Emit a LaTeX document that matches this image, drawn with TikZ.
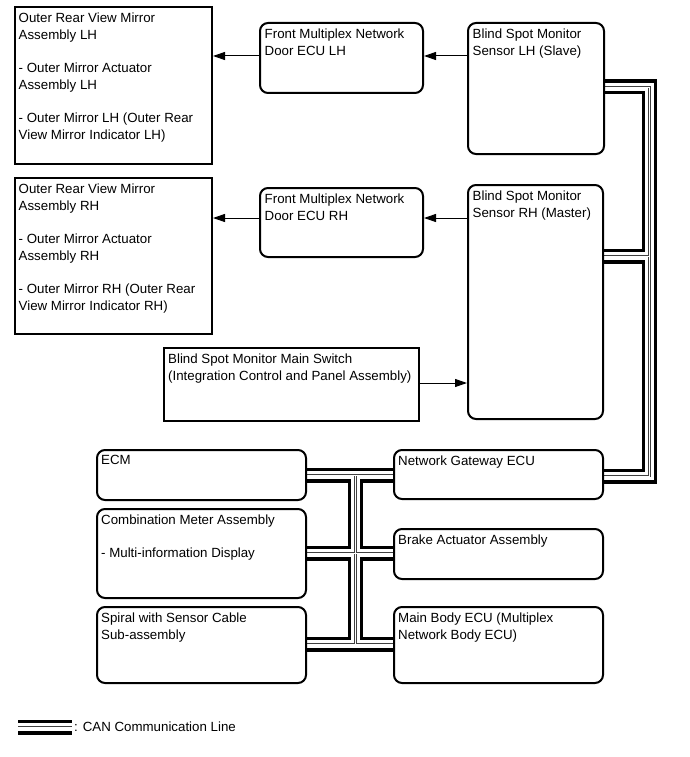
\documentclass[tikz,border=0pt]{standalone}
\usepackage{fontspec}
\setmainfont{Liberation Sans}
\usetikzlibrary{arrows.meta}
\pgfdeclarelayer{bg}
\pgfsetlayers{bg,main}
\begin{document}
\begin{tikzpicture}[x=1pt,y=-1pt,
  sbox/.style={draw, line width=2pt, fill=white, inner sep=0pt, anchor=north west},
  rbox/.style={sbox, rounded corners=8pt},
  txt/.style={anchor=north west, inner sep=0pt, align=left, font=\fontsize{13.3}{16.7}\selectfont},
  arr/.style={line width=1pt, -{Triangle[length=12pt,width=8pt]}}]
\useasboundingbox (0,0) rectangle (689,757);

% boxes
\node[sbox, minimum width=197, minimum height=157] (mlh) at (14,6) {};
\node[txt] (mlht) at ([shift={(4.5,6.5)}]mlh.north west) {Outer Rear View Mirror\\Assembly LH\\[16.7pt]- Outer Mirror Actuator\\Assembly LH\\[16.7pt]- Outer Mirror LH (Outer Rear\\View Mirror Indicator LH)};

\node[rbox, minimum width=163, minimum height=70] (dlh) at (259,22) {};
\node[txt] (dlht) at ([shift={(5.5,6.5)}]dlh.north west) {Front Multiplex Network\\Door ECU LH};

\node[rbox, minimum width=136, minimum height=131] (slh) at (467,22) {};
\node[txt] (slht) at ([shift={(5.5,6.5)}]slh.north west) {Blind Spot Monitor\\Sensor LH (Slave)};

\node[sbox, minimum width=197, minimum height=156] (mrh) at (14,177) {};
\node[txt] (mrht) at ([shift={(4.5,6.5)}]mrh.north west) {Outer Rear View Mirror\\Assembly RH\\[16.7pt]- Outer Mirror Actuator\\Assembly RH\\[16.7pt]- Outer Mirror RH (Outer Rear\\View Mirror Indicator RH)};

\node[rbox, minimum width=163, minimum height=69] (drh) at (259,187) {};
\node[txt] (drht) at ([shift={(5.5,6.5)}]drh.north west) {Front Multiplex Network\\Door ECU RH};

\node[rbox, minimum width=135, minimum height=234] (srh) at (467,184) {};
\node[txt] (srht) at ([shift={(5.5,6.5)}]srh.north west) {Blind Spot Monitor\\Sensor RH (Master)};

\node[sbox, minimum width=255, minimum height=73] (sw) at (163,347) {};
\node[txt] (swt) at ([shift={(5,6.5)}]sw.north west) {Blind Spot Monitor Main Switch\\(Integration Control and Panel Assembly)};

\node[rbox, minimum width=209, minimum height=50] (ecm) at (96,449) {};
\node[txt] (ecmt) at ([shift={(5,6.5)}]ecm.north west) {ECM};

\node[rbox, minimum width=209, minimum height=89] (cm) at (96,508) {};
\node[txt] (cmt) at ([shift={(5,6.5)}]cm.north west) {Combination Meter Assembly\\[16.7pt]- Multi-information Display};

\node[rbox, minimum width=209, minimum height=76] (sp) at (96,606) {};
\node[txt] (spt) at ([shift={(5,6.5)}]sp.north west) {Spiral with Sensor Cable\\Sub-assembly};

\node[rbox, minimum width=209, minimum height=49] (gw) at (393,449) {};
\node[txt] (gwt) at ([shift={(5,6.5)}]gw.north west) {Network Gateway ECU};

\node[rbox, minimum width=209, minimum height=50] (br) at (393,528) {};
\node[txt] (brt) at ([shift={(5,6.5)}]br.north west) {Brake Actuator Assembly};

\node[rbox, minimum width=209, minimum height=76] (mb) at (393,606) {};
\node[txt] (mbt) at ([shift={(5,6.5)}]mb.north west) {Main Body ECU (Multiplex\\Network Body ECU)};

% legend
\coordinate (lg1) at (18,727);
\coordinate (lg2) at (72,727);
\node[txt, anchor=west] (lgt) at (74,727) {: CAN Communication Line};

% bus coordinates
\coordinate (busR) at (649.5,0);
\coordinate (busL) at (355.5,0);

\begin{pgfonlayer}{bg}
\foreach \w/\c in {15/black, 8.5/white, 2.6/black!75, 0.9/white}{
  \draw[line width=\w pt, \c, line join=miter]
    (slh.center |- 0,87) -- (busR |- 0,87) -- (busR |- 0,476) -- (gw.center |- 0,476)
    (srh.center |- 0,256) -- (busR |- 0,256)
    (ecm.center |- 0,475) -- (gw.center |- 0,475)
    (busL |- 0,475) -- (busL |- 0,644)
    (cm.center |- 0,553) -- (br.center |- 0,553)
    (sp.center |- 0,644) -- (mb.center |- 0,644)
    (lg1) -- (lg2);
}
\end{pgfonlayer}

% arrows
\draw[arr] (slh.west |- 0,56) -- (dlh.east |- 0,56);
\draw[arr] (dlh.west |- 0,56) -- (mlh.east |- 0,56);
\draw[arr] (srh.west |- 0,218) -- (drh.east |- 0,218);
\draw[arr] (drh.west |- 0,218) -- (mrh.east |- 0,218);
\draw[arr] (sw.east |- 0,383) -- (srh.west |- 0,383);
\end{tikzpicture}
\end{document}
